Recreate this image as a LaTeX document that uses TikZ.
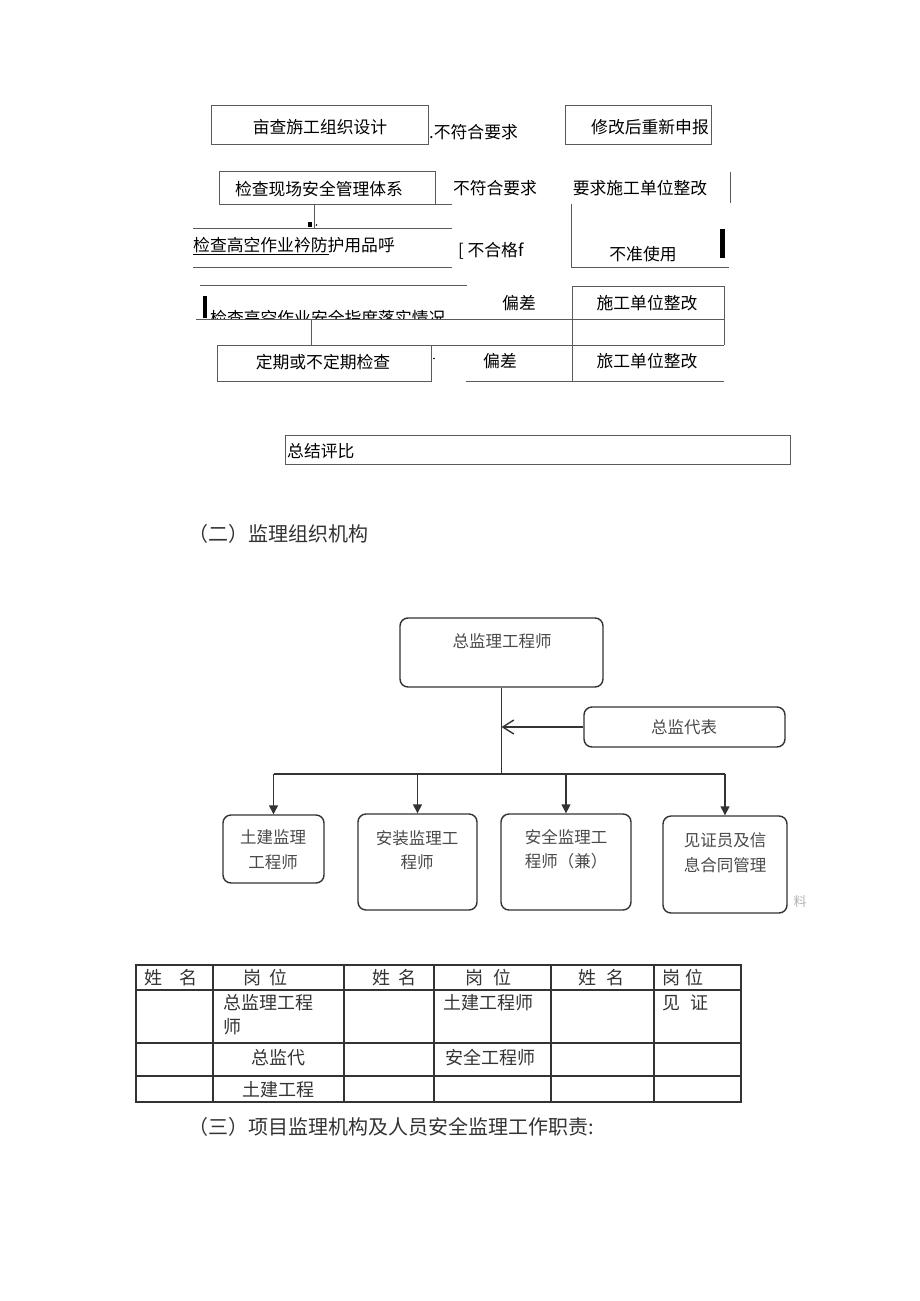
\documentclass[tikz,border=0pt]{standalone}
\usepackage{fontspec}
\setmainfont{Noto Sans CJK SC}
\usetikzlibrary{arrows.meta}
\definecolor{tlc}{HTML}{5A5A5A}
\definecolor{otc}{HTML}{4A4A4A}
\definecolor{obc}{HTML}{333333}
\definecolor{tbc}{HTML}{333333}
\newcommand\myfs[1]{\fontsize{#1}{#1}\selectfont}
\begin{document}
\begin{tikzpicture}[x=1pt,y=-1pt,
  tline/.style={draw=tlc,line width=0.9pt},
  tbox/.style={draw=tlc,line width=0.9pt,inner sep=0,rectangle},
  ttx/.style={inner sep=0,font=\myfs{16.8},text=black},
  obox/.style={draw=obc,line width=1.4pt,rounded corners=8pt,inner sep=0,rectangle},
  otx/.style={inner sep=0,font=\fontsize{16.5}{24.5}\selectfont,text=otc,align=center},
  oline/.style={draw=obc,line width=1.4pt},
  darrow/.style={oline,-{Triangle[length=9pt,width=9pt]}},
  larrow/.style={oline,-{Straight Barb[length=11pt,width=14pt,line width=1.4pt]}},
  tabl/.style={draw=tbc,line width=1.7pt},
  tabx/.style={inner sep=0,font=\myfs{18},text=tbc,anchor=west},
  hdx/.style={inner sep=0,font=\myfs{20},text=tbc,anchor=west}]
\useasboundingbox[fill=white] (0,0) rectangle (920,1301);

% ---------- top flow section ----------
\node[tbox,minimum width=217pt,minimum height=39pt] (boxA) at (319.5,124.5) {};
\node[ttx] (tA) at (320,127) {亩查旃工组织设计};
\node[ttx,anchor=west] (tA2) at (429,132) {.不符合要求};
\node[tbox,minimum width=146pt,minimum height=39pt] (boxB) at (638,124.5) {};
\node[ttx] (tB) at (650,127) {修改后重新申报};

\node[tbox,minimum width=216pt,minimum height=33pt] (boxC) at (327,187.5) {};
\node[ttx] (tC) at (319,189) {检查现场安全管理体系};
\node[ttx] (tC2) at (495,188) {不符合要求};
\node[ttx] (tC3) at (640,188) {要求施工单位整改};
\draw[tline] (435,204) -- (452,204);
\draw[tline] (730,172) -- (730,203);
\draw[tline] (314,204) -- (314,228);

\draw[tline] (193,228) -- (452,228);
\draw[tline] (193,267) -- (452,267);
\fill[black] (307.5,221.5) rectangle (312,226.5);
\fill[black] (316.5,225) circle (0.8pt);
\node[ttx,anchor=west] (tD) at (193,245) {检查高空作业衿防护用品呼};
\draw[black,line width=0.8pt] (193,254.5) -- (329,254.5);
\node[ttx,anchor=west] (tD2) at (458,251) {[ 不合格f};
\draw[tline] (571,204) -- (571,267) -- (729,267);
\node[ttx] (tD3) at (643,254) {不准使用};
\fill[black] (720,229) rectangle (724.5,258);

\draw[tline] (200,285) -- (467,285);
\fill[black] (203,296) rectangle (207,318);
\begin{scope}
\clip (195,295) rectangle (470,319);
\node[ttx,anchor=west] (tE) at (210,318.5) {检查高空作业安全指度落实情况};
\end{scope}
\node[ttx] (tE2) at (519,303) {偏差};
\node[tbox,minimum width=152pt,minimum height=33pt] (boxE) at (648,302.5) {};
\node[ttx] (tE3) at (647,303) {施工单位整改};
\draw[tline] (196,319) -- (724,319);
\draw[tline] (311,319) -- (311,345);
\draw[tline] (724,319) -- (724,345);
\draw[tline] (217,345) -- (724,345);

\node[tbox,minimum width=214pt,minimum height=36pt] (boxF) at (324,363) {};
\node[ttx] (tF) at (323,362) {定期或不定期检查};
\fill[black] (434,358.5) circle (0.8pt);
\node[ttx] (tF2) at (500,361) {偏差};
\draw[tline] (572,319) -- (572,381);
\draw[tline] (466,381) -- (724,381);
\node[ttx] (tF3) at (647,361) {旅工单位整改};

\node[tbox,minimum width=505pt,minimum height=29pt] (boxG) at (537.5,449.5) {};
\node[ttx,anchor=west] (tG) at (287,451) {总结评比};

% ---------- section header ----------
\node[hdx] (h2) at (188,534) {（二）监理组织机构};

% ---------- org chart ----------
\node[obox,minimum width=203pt,minimum height=69pt] (chief) at (501.5,652.5) {};
\node[otx] (chiefT) at (502,641) {总监理工程师};
\node[obox,minimum width=201pt,minimum height=40pt] (rep) at (684.5,727) {};
\node[otx] (repT) at (684,727) {总监代表};

\node[obox,minimum width=101pt,minimum height=68pt] (b1) at (273.5,849) {};
\node[otx] (b1T) at (273,849.5) {土建监理\\工程师};
\node[obox,minimum width=119pt,minimum height=96pt] (b2) at (417.5,862) {};
\node[otx] (b2T) at (417,850) {安装监理工\\程师};
\node[obox,minimum width=130pt,minimum height=96pt] (b3) at (566,862) {};
\node[otx] (b3T) at (566,849.5) {安全监理工\\程师（兼）};
\node[obox,minimum width=124pt,minimum height=97pt] (b4) at (725,864.5) {};
\node[otx] (b4T) at (725,852.5) {见证员及信\\息合同管理};
\node[inner sep=0,font=\myfs{13},text=black!30] (wm) at (800,902) {料};

\coordinate (bus) at (501.5,774);
\draw[oline] (chief.south) -- (chief.south |- bus);
\draw[larrow] (rep.west) -- (rep.west -| chief.south);
\draw[oline] (b1.north |- bus) -- (b4.north |- bus);
\draw[darrow] (b1.north |- bus) -- (b1.north);
\draw[darrow] (b2.north |- bus) -- (b2.north);
\draw[darrow] (b3.north |- bus) -- (b3.north);
\draw[darrow] (b4.north |- bus) -- (b4.north);

% ---------- table ----------
\draw[tabl] (136,965) rectangle (741,1102);
\foreach \yy in {990,1043,1076} \draw[tabl] (136,\yy) -- (741,\yy);
\foreach \xx in {213,344,434,551,654} \draw[tabl] (\xx,965) -- (\xx,1102);
\node[tabx] (c11) at (144,978) {姓\hspace{17pt}名};
\node[tabx] (c12) at (243,978) {岗\hspace{8pt}位};
\node[tabx] (c13) at (372,978) {姓\hspace{8pt}名};
\node[tabx] (c14) at (465,978) {岗\hspace{10pt}位};
\node[tabx] (c15) at (578,978) {姓\hspace{10pt}名};
\node[tabx] (c16) at (662,978) {岗\hspace{5pt}位};
\node[tabx] (c22) at (223,1003) {总监理工程};
\node[tabx] (c22b) at (223,1027) {师};
\node[tabx] (c24) at (443,1003) {土建工程师};
\node[tabx] (c26) at (662,1003) {见\hspace{10pt}证};
\node[tabx] (c32) at (251,1058) {总监代};
\node[tabx] (c34) at (445,1058) {安全工程师};
\node[tabx] (c42) at (242,1090) {土建工程};

\node[hdx] (h3) at (188,1127) {（三）项目监理机构及人员安全监理工作职责:};
\end{tikzpicture}
\end{document}
